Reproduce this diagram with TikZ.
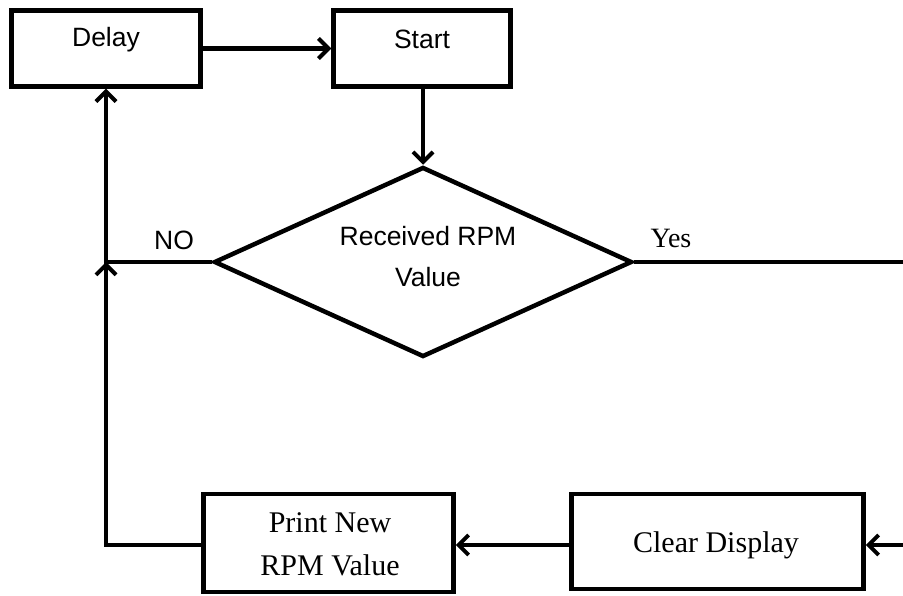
\documentclass[tikz,border=0pt]{standalone}
\usepackage{fontspec}
\setmainfont{Liberation Serif}
\setsansfont{Liberation Sans}
\usetikzlibrary{arrows.meta,shapes.geometric}
\begin{document}
\begin{tikzpicture}[x=1pt,y=-1pt,line width=4.5pt,
  box/.style={draw,rectangle,inner sep=0pt},
  dec/.style={draw,diamond,inner sep=0pt,minimum width=418pt,minimum height=190pt},
  stxt/.style={font=\sffamily\fontsize{26.5}{41}\selectfont,align=center,inner sep=0pt},
  rtxt/.style={font=\rmfamily\fontsize{30}{43}\selectfont,align=center,inner sep=0pt},
  arr/.style={-{Straight Barb[length=10pt,width=20pt,line width=4pt]}},
  conn/.style={line cap=butt}]
\useasboundingbox (0,0) rectangle (903,596);
% boxes
\node[box,minimum width=189pt,minimum height=76pt] (delay) at (106,48.5) {};
\node[stxt] (delayt) at (106,40) {Delay};
\node[box,minimum width=177pt,minimum height=76pt] (start) at (422,48.5) {};
\node[stxt] (startt) at (422,39) {Start};
\node[dec] (dia) at (423,262) {};
\node[stxt] (diat) at (428,257) {Received RPM\\Value};
\node[box,minimum width=250pt,minimum height=98pt] (print) at (328.5,543) {};
\node[rtxt] (printt) at (330,544) {Print New\\RPM Value};
\node[box,minimum width=292pt,minimum height=95pt] (clear) at (717.5,541.5) {};
\node[rtxt] (cleart) at (716,545) {Clear Display};
% labels
\node[stxt] (nolab) at (174,240) {NO};
\node[rtxt,font=\rmfamily\fontsize{28}{30}\selectfont] (yeslab) at (671,238) {Yes};
% coordinates
\coordinate (jn) at (106,262);
\coordinate (yesend) at (903,262);
\coordinate (cin) at (903,545);
% connectors
\draw[arr] (delay.east) -- (start.west);
\draw[arr] (start.south -| dia.north) -- (dia.north);
\draw[arr] (dia.west) -- (jn) -- (delay.south);
\draw[arr] (print.west |- 0,545) -| (jn);
\draw (dia.east) -- (yesend);
\draw[arr] (cin) -- (clear.east |- cin);
\draw[arr] (clear.west |- 0,545) -- (print.east |- 0,545);
\end{tikzpicture}
\end{document}
